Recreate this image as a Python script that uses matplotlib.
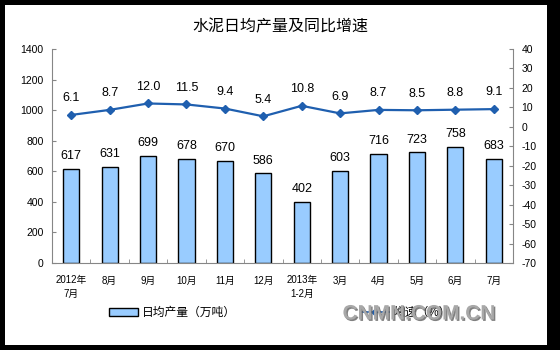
import numpy as np
import matplotlib.pyplot as plt
import matplotlib.patheffects as pe
from matplotlib.patches import Rectangle
from matplotlib.lines import Line2D

plt.rcParams['font.family'] = ['Liberation Sans', 'Noto Sans CJK SC', 'DejaVu Sans']
plt.rcParams['axes.unicode_minus'] = False

# monthly cement output and growth rate
months = ['2012年\n7月', '8月', '9月', '10月', '11月', '12月',
          '2013年\n1-2月', '3月', '4月', '5月', '6月', '7月']
output = [617, 631, 699, 678, 670, 586, 402, 603, 716, 723, 758, 683]
growth = [6.1, 8.7, 12.0, 11.5, 9.4, 5.4, 10.8, 6.9, 8.7, 8.5, 8.8, 9.1]

bar_color = '#99CCFF'
line_color = '#1F5FAF'
axis_color = '#868686'

fig = plt.figure(figsize=(5.6, 3.5), dpi=100, facecolor='black')
# white chart area inside the black frame
fig.patches.append(Rectangle((5 / 560, 5 / 350), 542 / 560, 340 / 350,
                             transform=fig.transFigure, facecolor='white',
                             edgecolor='none', zorder=-5))

ax = fig.add_axes([52 / 560, 87 / 350, 461 / 560, 214 / 350])
ax.set_facecolor('none')
x = np.arange(len(months))

ax.bar(x, output, width=0.42, color=bar_color, edgecolor='black', linewidth=1.0, zorder=2)
for xi, v in zip(x, output):
    ax.text(xi, v + 45, str(v), ha='center', va='bottom', fontsize=9)

ax.set_xlim(-0.5, len(months) - 0.5)
ax.set_ylim(0, 1400)
ax.set_yticks(range(0, 1401, 200))
ax.set_xticks(x)
ax.set_xticklabels(months, fontsize=7, linespacing=1.45)
ax.set_xticks(np.arange(-0.5, len(months), 1), minor=True)
ax.tick_params(axis='x', which='major', length=0, pad=9)
ax.tick_params(axis='x', which='minor', length=3, direction='in', color=axis_color)
ax.tick_params(axis='y', labelsize=7.5, length=3, direction='in', color=axis_color, pad=6)
for s in ['top', 'right']:
    ax.spines[s].set_visible(False)
for s in ['left', 'bottom']:
    ax.spines[s].set_color(axis_color)

ax2 = ax.twinx()
ax2.plot(x, growth, color=line_color, linewidth=1.6, marker='D', markersize=4.5, zorder=3)
for xi, v in zip(x, growth):
    ax2.text(xi, v + 5.5, f'{v:.1f}', ha='center', va='bottom', fontsize=9)
ax2.set_ylim(-70, 40)
ax2.set_yticks(range(-70, 41, 10))
ax2.tick_params(axis='y', labelsize=7.5, length=3, direction='in', color=axis_color, pad=6)
for s in ['top', 'left', 'bottom']:
    ax2.spines[s].set_visible(False)
ax2.spines['right'].set_color(axis_color)

fig.text(0.5, 1 - 27 / 350, '水泥日均产量及同比增速', ha='center', va='center', fontsize=11.5)

handles = [Rectangle((0, 0), 1, 1, facecolor=bar_color, edgecolor='black', linewidth=1.0),
           Line2D([], [], color=line_color, linewidth=1.2, marker='D', markersize=2.5)]
fig.legend(handles, ['日均产量（万吨）', '增速（%）'], loc='center',
           bbox_to_anchor=(280 / 560, 37 / 350), ncol=2, frameon=False,
           fontsize=8.5, handlelength=2.4, handleheight=0.6, columnspacing=10.5,
           handletextpad=0.4)

# site watermark
fig.text(419 / 560, 36 / 350, 'CNMN.COM.CN', ha='center', va='center',
         fontsize=15, fontweight='bold', color='#A8A8A8', zorder=10,
         path_effects=[pe.withSimplePatchShadow(offset=(1, -1), shadow_rgbFace='#606060', alpha=0.8)])

fig.savefig('out.png', dpi=100, facecolor=fig.get_facecolor())
